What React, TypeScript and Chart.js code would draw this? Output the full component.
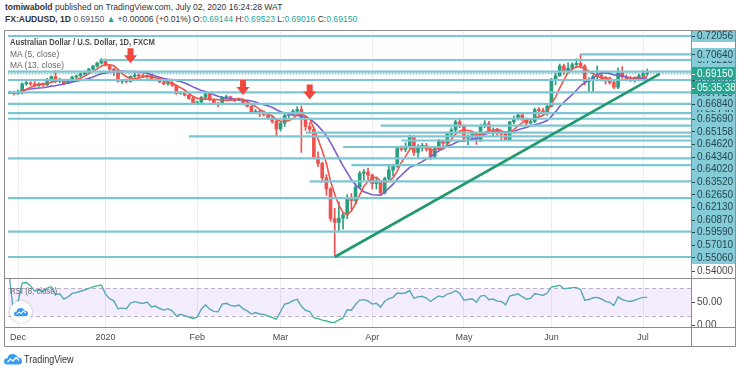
import React, { useEffect, useRef } from 'react';
import { Chart, registerables } from 'chart.js';

Chart.register(...registerables);

const FONT = "'Liberation Sans', Arial, sans-serif";

// ---------- data ----------
const dates = [
  '2019-11-27', '2019-11-28', '2019-11-29',
  '2019-12-02', '2019-12-03', '2019-12-04', '2019-12-05', '2019-12-06', '2019-12-09', '2019-12-10', '2019-12-11', '2019-12-12', '2019-12-13', '2019-12-16', '2019-12-17', '2019-12-18', '2019-12-19', '2019-12-20', '2019-12-23', '2019-12-24', '2019-12-26', '2019-12-27', '2019-12-30', '2019-12-31',
  '2020-01-02', '2020-01-03', '2020-01-06', '2020-01-07', '2020-01-08', '2020-01-09', '2020-01-10', '2020-01-13', '2020-01-14', '2020-01-15', '2020-01-16', '2020-01-17', '2020-01-20', '2020-01-21', '2020-01-22', '2020-01-23', '2020-01-24', '2020-01-27', '2020-01-28', '2020-01-29', '2020-01-30', '2020-01-31',
  '2020-02-03', '2020-02-04', '2020-02-05', '2020-02-06', '2020-02-07', '2020-02-10', '2020-02-11', '2020-02-12', '2020-02-13', '2020-02-14', '2020-02-17', '2020-02-18', '2020-02-19', '2020-02-20', '2020-02-21', '2020-02-24', '2020-02-25', '2020-02-26', '2020-02-27', '2020-02-28',
  '2020-03-02', '2020-03-03', '2020-03-04', '2020-03-05', '2020-03-06', '2020-03-09', '2020-03-10', '2020-03-11', '2020-03-12', '2020-03-13', '2020-03-16', '2020-03-17', '2020-03-18', '2020-03-19', '2020-03-20', '2020-03-23', '2020-03-24', '2020-03-25', '2020-03-26', '2020-03-27', '2020-03-30', '2020-03-31',
  '2020-04-01', '2020-04-02', '2020-04-03', '2020-04-06', '2020-04-07', '2020-04-08', '2020-04-09', '2020-04-10', '2020-04-13', '2020-04-14', '2020-04-15', '2020-04-16', '2020-04-17', '2020-04-20', '2020-04-21', '2020-04-22', '2020-04-23', '2020-04-24', '2020-04-27', '2020-04-28', '2020-04-29', '2020-04-30',
  '2020-05-01', '2020-05-04', '2020-05-05', '2020-05-06', '2020-05-07', '2020-05-08', '2020-05-11', '2020-05-12', '2020-05-13', '2020-05-14', '2020-05-15', '2020-05-18', '2020-05-19', '2020-05-20', '2020-05-21', '2020-05-22', '2020-05-25', '2020-05-26', '2020-05-27', '2020-05-28', '2020-05-29',
  '2020-06-01', '2020-06-02', '2020-06-03', '2020-06-04', '2020-06-05', '2020-06-08', '2020-06-09', '2020-06-10', '2020-06-11', '2020-06-12', '2020-06-15', '2020-06-16', '2020-06-17', '2020-06-18', '2020-06-19', '2020-06-22', '2020-06-23', '2020-06-24', '2020-06-25', '2020-06-26', '2020-06-29', '2020-06-30',
  '2020-07-01', '2020-07-02',
];

const open = [
  0.6780, 0.6768, 0.6770,
  0.6763, 0.6768, 0.6837, 0.6846, 0.6838, 0.6823, 0.6836, 0.6830, 0.6869, 0.6893, 0.6860, 0.6867, 0.6840, 0.6857, 0.6890, 0.6899, 0.6914, 0.6929, 0.6951, 0.6975, 0.6997,
  0.7021, 0.6978, 0.6950, 0.6935, 0.6858, 0.6862, 0.6856, 0.6895, 0.6906, 0.6898, 0.6893, 0.6901, 0.6866, 0.6871, 0.6852, 0.6838, 0.6844, 0.6826, 0.6763, 0.6770, 0.6750, 0.6725,
  0.6690, 0.6696, 0.6734, 0.6762, 0.6715, 0.6686, 0.6680, 0.6732, 0.6738, 0.6720, 0.6712, 0.6719, 0.6688, 0.6664, 0.6620, 0.6628, 0.6606, 0.6598, 0.6574, 0.6550,
  0.6490, 0.6535, 0.6595, 0.6605, 0.6628, 0.6640, 0.6572, 0.6510, 0.6488, 0.6275, 0.6225, 0.6115, 0.6030, 0.5800, 0.5772, 0.5805, 0.5830, 0.5955, 0.5940, 0.6045, 0.6150, 0.6160,
  0.6135, 0.6070, 0.6085, 0.6000, 0.6110, 0.6175, 0.6205, 0.6340, 0.6333, 0.6348, 0.6430, 0.6310, 0.6345, 0.6362, 0.6335, 0.6280, 0.6340, 0.6395, 0.6380, 0.6450, 0.6482, 0.6545,
  0.6515, 0.6420, 0.6435, 0.6448, 0.6400, 0.6515, 0.6530, 0.6470, 0.6482, 0.6455, 0.6450, 0.6405, 0.6545, 0.6570, 0.6598, 0.6565, 0.6535, 0.6548, 0.6640, 0.6630, 0.6620,
  0.6665, 0.6865, 0.6900, 0.6975, 0.6935, 0.6958, 0.6985, 0.6995, 0.6975, 0.6855, 0.6865, 0.6895, 0.6902, 0.6885, 0.6860, 0.6848, 0.6812, 0.6922, 0.6890, 0.6875, 0.6868, 0.6882,
  0.6900, 0.69144,
];

const high = [
  0.6788, 0.6782, 0.6780,
  0.6790, 0.6845, 0.6862, 0.6854, 0.6860, 0.6845, 0.6846, 0.6880, 0.6899, 0.6939, 0.6880, 0.6875, 0.6868, 0.6896, 0.6906, 0.6920, 0.6935, 0.6956, 0.6980, 0.7005, 0.7032,
  0.7029, 0.6985, 0.6958, 0.6940, 0.6872, 0.6875, 0.6900, 0.6918, 0.6912, 0.6913, 0.6906, 0.6904, 0.6875, 0.6876, 0.6860, 0.6850, 0.6856, 0.6830, 0.6779, 0.6781, 0.6755, 0.6738,
  0.6705, 0.6742, 0.6775, 0.6765, 0.6720, 0.6696, 0.6742, 0.6750, 0.6744, 0.6726, 0.6728, 0.6722, 0.6698, 0.6670, 0.6640, 0.6632, 0.6628, 0.6614, 0.6590, 0.6556,
  0.6545, 0.6620, 0.6614, 0.6640, 0.6662, 0.6668, 0.6590, 0.6540, 0.6500, 0.6315, 0.6235, 0.6140, 0.6040, 0.5880, 0.5930, 0.5850, 0.5985, 0.5995, 0.6070, 0.6165, 0.6180, 0.6190,
  0.6145, 0.6110, 0.6090, 0.6120, 0.6210, 0.6220, 0.6350, 0.6360, 0.6385, 0.6445, 0.6440, 0.6370, 0.6380, 0.6380, 0.6345, 0.6355, 0.6410, 0.6405, 0.6460, 0.6500, 0.6560, 0.6570,
  0.6525, 0.6445, 0.6465, 0.6460, 0.6525, 0.6555, 0.6550, 0.6500, 0.6495, 0.6475, 0.6470, 0.6550, 0.6590, 0.6615, 0.6610, 0.6575, 0.6560, 0.6650, 0.6655, 0.6650, 0.6685,
  0.6880, 0.6920, 0.6990, 0.6990, 0.7000, 0.7000, 0.7030, 0.7064, 0.6985, 0.6885, 0.6905, 0.6975, 0.6925, 0.6895, 0.6890, 0.6862, 0.6960, 0.6970, 0.6905, 0.6895, 0.6890, 0.6910,
  0.6940, 0.69523,
];

const low = [
  0.6760, 0.6762, 0.6750,
  0.6757, 0.6760, 0.6826, 0.6825, 0.6812, 0.6818, 0.6818, 0.6825, 0.6855, 0.6846, 0.6846, 0.6830, 0.6838, 0.6850, 0.6872, 0.6890, 0.6909, 0.6922, 0.6945, 0.6965, 0.6990,
  0.6975, 0.6930, 0.6900, 0.6850, 0.6840, 0.6845, 0.6850, 0.6880, 0.6888, 0.6885, 0.6880, 0.6860, 0.6860, 0.6846, 0.6832, 0.6826, 0.6818, 0.6756, 0.6757, 0.6745, 0.6718, 0.6682,
  0.6683, 0.6690, 0.6720, 0.6706, 0.6680, 0.6662, 0.6675, 0.6718, 0.6712, 0.6700, 0.6708, 0.6678, 0.6660, 0.6610, 0.6608, 0.6585, 0.6590, 0.6566, 0.6535, 0.6434,
  0.6475, 0.6510, 0.6574, 0.6595, 0.6610, 0.6310, 0.6480, 0.6468, 0.6260, 0.6200, 0.6080, 0.5980, 0.5780, 0.5506, 0.5700, 0.5720, 0.5800, 0.5870, 0.5910, 0.6030, 0.6100, 0.6100,
  0.6030, 0.6030, 0.5980, 0.5990, 0.6100, 0.6130, 0.6195, 0.6320, 0.6315, 0.6340, 0.6285, 0.6270, 0.6320, 0.6320, 0.6253, 0.6270, 0.6330, 0.6360, 0.6370, 0.6430, 0.6470, 0.6500,
  0.6400, 0.6370, 0.6410, 0.6372, 0.6395, 0.6500, 0.6460, 0.6440, 0.6440, 0.6400, 0.6400, 0.6400, 0.6530, 0.6560, 0.6555, 0.6520, 0.6530, 0.6540, 0.6590, 0.6600, 0.6595,
  0.6660, 0.6830, 0.6895, 0.6910, 0.6920, 0.6945, 0.6960, 0.6960, 0.6830, 0.6780, 0.6777, 0.6860, 0.6860, 0.6835, 0.6835, 0.6800, 0.6800, 0.6880, 0.6860, 0.6855, 0.6850, 0.6860,
  0.6880, 0.69016,
];

const close = [
  0.6768, 0.6770, 0.6763,
  0.6768, 0.6837, 0.6846, 0.6838, 0.6823, 0.6836, 0.6830, 0.6869, 0.6893, 0.6860, 0.6867, 0.6840, 0.6857, 0.6890, 0.6899, 0.6914, 0.6929, 0.6951, 0.6975, 0.6997, 0.7021,
  0.6978, 0.6950, 0.6935, 0.6858, 0.6862, 0.6856, 0.6895, 0.6906, 0.6898, 0.6893, 0.6901, 0.6866, 0.6871, 0.6852, 0.6838, 0.6844, 0.6826, 0.6763, 0.6770, 0.6750, 0.6725, 0.6690,
  0.6696, 0.6734, 0.6762, 0.6715, 0.6686, 0.6680, 0.6732, 0.6738, 0.6720, 0.6712, 0.6719, 0.6688, 0.6664, 0.6620, 0.6628, 0.6606, 0.6598, 0.6574, 0.6550, 0.6490,
  0.6535, 0.6595, 0.6605, 0.6628, 0.6640, 0.6572, 0.6510, 0.6488, 0.6275, 0.6225, 0.6115, 0.6030, 0.5800, 0.5772, 0.5805, 0.5830, 0.5955, 0.5940, 0.6045, 0.6150, 0.6160, 0.6135,
  0.6070, 0.6085, 0.6000, 0.6110, 0.6175, 0.6205, 0.6340, 0.6333, 0.6348, 0.6430, 0.6310, 0.6345, 0.6362, 0.6335, 0.6280, 0.6340, 0.6395, 0.6380, 0.6450, 0.6482, 0.6545, 0.6515,
  0.6420, 0.6435, 0.6448, 0.6400, 0.6515, 0.6530, 0.6470, 0.6482, 0.6455, 0.6450, 0.6405, 0.6545, 0.6570, 0.6598, 0.6565, 0.6535, 0.6548, 0.6640, 0.6630, 0.6620, 0.6665,
  0.6865, 0.6900, 0.6975, 0.6935, 0.6958, 0.6985, 0.6995, 0.6975, 0.6855, 0.6865, 0.6895, 0.6902, 0.6885, 0.6860, 0.6848, 0.6812, 0.6922, 0.6890, 0.6875, 0.6868, 0.6882, 0.6900,
  0.6914, 0.69150,
];

// time axis labels
const monthTickDates = ['2019-12-02', '2020-01-02', '2020-02-03', '2020-03-02', '2020-04-01', '2020-05-01', '2020-06-01', '2020-07-01'];
const monthTickLabels = ['Dec', '2020', 'Feb', 'Mar', 'Apr', 'May', 'Jun', 'Jul'];

// horizontal levels
const levelPrices = [0.72056, 0.7064, 0.7021, 0.6931, 0.6867, 0.6772, 0.6684, 0.6612, 0.6569, 0.65158, 0.6462, 0.6434, 0.6402, 0.6352, 0.6265, 0.6213, 0.6087, 0.5959, 0.5701, 0.5506];
const levelStartDates = ['2019-11-27', '2020-06-10', '2019-12-31', '2019-11-27', '2019-11-27', '2019-11-27', '2019-11-27', '2019-11-27', '2019-11-27', '2020-04-03', '2020-03-10', '2020-01-30', '2020-04-10', '2020-03-23', '2019-11-27', '2020-03-25', '2020-03-11', '2019-11-27', '2019-11-27', '2019-11-27'];
const levelLabelShown = [true, true, false, false, false, false, true, false, true, true, true, true, true, true, true, true, true, true, true, true];

const lastPrice = 0.6915;
const lastPriceText = '0.69150';
const countdownText = '05:35:38';
const plainAxisTick = 0.54;

// trend line (bar index, price)
const trendBars = [79, 157];
const trendPrices = [0.5506, 0.6915];

// red arrows (date, tip price)
const arrowDates = ['2020-01-10', '2020-02-18', '2020-03-11'];
const arrowPrices = [0.6996, 0.6752, 0.6718];

// RSI levels / axis labels
const rsiBand = [80, 20];
const rsiAxisTicks = [50, 0];

// ---------- view constants ----------
const X_MIN = 0.6;
const X_MAX = 164.5;
const PRICE_MIN = 0.53445;
const PRICE_MAX = 0.72517;
const RSI_MIN = -4.35;
const RSI_MAX = 102.2;

const UP = '#2a9f80';
const DOWN = '#ef5350';
const LEVEL = '#7cc6d3';
const LABEL_BG = '#86ccd8';
const LABEL_FG = '#23474f';
const TAG = '#27a58f';
const BORDER = '#8c8c8c';

function sma(v: number[], n: number) {
  return v.map((_, i) => {
    const s = Math.max(0, i - n + 1);
    let t = 0;
    for (let k = s; k <= i; k++) t += v[k];
    return t / (i - s + 1);
  });
}

function rsi(v: number[], n: number) {
  const out: (number | null)[] = [null];
  let ag = 0, al = 0;
  for (let i = 1; i < v.length; i++) {
    const ch = v[i] - v[i - 1];
    const g = Math.max(ch, 0), l = Math.max(-ch, 0);
    const m = Math.min(i, n);
    ag = (ag * (m - 1) + g) / m;
    al = (al * (m - 1) + l) / m;
    out.push(al === 0 ? 100 : 100 - 100 / (1 + ag / al));
  }
  return out;
}

const idxOf = (d: string) => dates.indexOf(d);

const panePlugin = {
  id: 'panePlugin',
  beforeDatasetsDraw(chart: any) {
    const { ctx, chartArea } = chart;
    const r = chart.scales.rsi;
    const yTop = r.getPixelForValue(rsiBand[0]);
    const yBot = r.getPixelForValue(rsiBand[1]);
    ctx.save();
    ctx.fillStyle = 'rgba(160, 110, 240, 0.12)';
    ctx.fillRect(chartArea.left, yTop, chartArea.right - chartArea.left, yBot - yTop);
    ctx.strokeStyle = '#b9b0c4';
    ctx.lineWidth = 1;
    ctx.setLineDash([4, 3]);
    [yTop, yBot].forEach((y) => {
      ctx.beginPath();
      ctx.moveTo(chartArea.left, Math.round(y) + 0.5);
      ctx.lineTo(chartArea.right, Math.round(y) + 0.5);
      ctx.stroke();
    });
    ctx.restore();
  },
  afterDatasetsDraw(chart: any) {
    const { ctx } = chart;
    const xs = chart.scales.x;
    const ys = chart.scales.y;
    ctx.save();
    ctx.fillStyle = '#f0483c';
    arrowDates.forEach((d, k) => {
      const px = xs.getPixelForValue(idxOf(d));
      const py = ys.getPixelForValue(arrowPrices[k]);
      ctx.beginPath();
      ctx.moveTo(px - 3, py - 15);
      ctx.lineTo(px + 3, py - 15);
      ctx.lineTo(px + 3, py - 8);
      ctx.lineTo(px + 6.5, py - 8);
      ctx.lineTo(px, py);
      ctx.lineTo(px - 6.5, py - 8);
      ctx.lineTo(px - 3, py - 8);
      ctx.closePath();
      ctx.fill();
    });
    ctx.restore();
  },
  afterDraw(chart: any) {
    const { ctx, width, height } = chart;
    const ys = chart.scales.y;
    const rs = chart.scales.rsi;
    const xs = chart.scales.x;
    const left = ys.left;
    const right = width;
    ctx.save();
    ctx.font = `10px ${FONT}`;
    ctx.textBaseline = 'middle';
    const H = 13;
    const drawBox = (y: number, text: string, bg: string, fg: string) => {
      if (bg) {
        ctx.fillStyle = bg;
        ctx.fillRect(left + 1, Math.round(y - H / 2), right - left - 1, H);
      }
      ctx.fillStyle = fg;
      ctx.fillRect(left + 1, Math.round(y), 3, 1);
      ctx.fillText(text, left + 6, y + 0.5);
    };
    // hidden (overlapped) labels first at true positions
    levelPrices.forEach((p, k) => {
      if (!levelLabelShown[k]) drawBox(ys.getPixelForValue(p), p.toFixed(5), LABEL_BG, LABEL_FG);
    });
    const items: any[] = levelPrices
      .map((p, k) => ({ p, k }))
      .filter((o) => levelLabelShown[o.k])
      .map((o) => ({ price: o.p, text: o.p.toFixed(5), bg: LABEL_BG, fg: LABEL_FG }));
    items.push({ price: lastPrice, text: lastPriceText, bg: TAG, fg: '#ffffff', countdown: true });
    items.push({ price: plainAxisTick, text: plainAxisTick.toFixed(5), bg: '', fg: '#4a4a4a' });
    items.sort((a, b) => b.price - a.price);
    let prev = -1e9;
    items.forEach((it) => {
      const y = Math.max(ys.getPixelForValue(it.price), prev + 12.6);
      drawBox(y, it.text, it.bg, it.fg);
      prev = y;
      if (it.countdown) {
        drawBox(y + 14, countdownText, TAG, '#ffffff');
        prev = y + 14;
      }
    });
    // RSI axis labels
    rsiAxisTicks.forEach((v) => drawBox(rs.getPixelForValue(v), v.toFixed(2), '', '#4a4a4a'));
    // frame
    ctx.strokeStyle = BORDER;
    ctx.lineWidth = 1;
    ctx.beginPath();
    ctx.rect(0.5, 0.5, width - 1, height - 1);
    const sep = Math.round(rs.top) + 0.5;
    ctx.moveTo(0, sep);
    ctx.lineTo(width, sep);
    const xb = Math.round(xs.top) + 0.5;
    ctx.moveTo(0, xb);
    ctx.lineTo(width, xb);
    const vb = Math.round(left) + 0.5;
    ctx.moveTo(vb, 0);
    ctx.lineTo(vb, height);
    ctx.stroke();
    ctx.restore();
  },
};

function Cloud({ w, h }: { w: number; h: number }) {
  return (
    <svg width={w} height={h} viewBox="0 0 36 24">
      <path d="M7 23 Q0 23 0 16.5 Q0 10 7 10.5 Q8 2 17 2 Q25 2 27.5 9 Q36 9 36 16.5 Q36 23 29 23 Z" fill="#3a9cf0" />
      <polyline points="7,18 13,12 18,16 24,9 30,15" fill="none" stroke="#ffffff" strokeWidth="2.6" strokeLinejoin="round" />
    </svg>
  );
}

export default function App() {
  const ref = useRef<HTMLCanvasElement>(null);

  useEffect(() => {
    document.body.style.margin = '0';
    const canvas = ref.current!;
    Chart.defaults.font.family = FONT;
    const ma5 = sma(close, 5);
    const ma13 = sma(close, 13);
    const rsi8 = rsi(close, 8);
    const idx = dates.map((_, i) => i);
    const colors = close.map((c, i) => (c >= open[i] ? UP : DOWN));
    const monthIdx = monthTickDates.map(idxOf);

    const datasets: any[] = [];
    datasets.push({
      type: 'line', yAxisID: 'y', order: 0,
      data: trendBars.map((b, k) => ({ x: b, y: trendPrices[k] })),
      borderColor: '#21996c', borderWidth: 2.6, pointRadius: 0,
    });
    levelPrices.forEach((p, k) => {
      datasets.push({
        type: 'line', yAxisID: 'y', order: 1,
        data: [{ x: idxOf(levelStartDates[k]), y: p }, { x: X_MAX + 10, y: p }],
        borderColor: LEVEL, borderWidth: 2.2, pointRadius: 0,
      });
    });
    datasets.push({
      type: 'line', yAxisID: 'y', order: 1,
      data: [{ x: X_MIN - 10, y: lastPrice }, { x: X_MAX + 10, y: lastPrice }],
      borderColor: '#1d7f6e', borderWidth: 1, borderDash: [1, 2], pointRadius: 0,
    });
    datasets.push({
      type: 'line', yAxisID: 'y', order: 2,
      data: idx.map((i) => ({ x: i, y: ma5[i] })),
      borderColor: '#f0544a', borderWidth: 1.6, pointRadius: 0,
    });
    datasets.push({
      type: 'line', yAxisID: 'y', order: 2,
      data: idx.map((i) => ({ x: i, y: ma13[i] })),
      borderColor: '#7b5fca', borderWidth: 1.6, pointRadius: 0,
    });
    datasets.push({
      type: 'bar', yAxisID: 'y', order: 3, grouped: false,
      data: idx.map((i) => ({ x: i, y: [open[i], close[i]] })),
      backgroundColor: colors, barThickness: 3, minBarLength: 1, borderWidth: 0,
    });
    datasets.push({
      type: 'bar', yAxisID: 'y', order: 4, grouped: false,
      data: idx.map((i) => ({ x: i, y: [low[i], high[i]] })),
      backgroundColor: colors, barThickness: 1, borderWidth: 0,
    });
    datasets.push({
      type: 'line', yAxisID: 'rsi', order: 5,
      data: idx.filter((i) => rsi8[i] !== null).map((i) => ({ x: i, y: rsi8[i] })),
      borderColor: '#58a9b7', borderWidth: 1.4, pointRadius: 0,
      segment: {
        borderColor: (c: any) =>
          (c.p0.parsed.y > rsiBand[0] && c.p1.parsed.y > rsiBand[0]) || (c.p0.parsed.y < rsiBand[1] && c.p1.parsed.y < rsiBand[1])
            ? '#3fb28c'
            : undefined,
      },
    });

    const chart = new Chart(canvas, {
      type: 'bar',
      data: { datasets },
      plugins: [panePlugin],
      options: {
        responsive: false,
        animation: false,
        devicePixelRatio: 1,
        events: [],
        layout: { padding: { left: 4, right: 0, top: 0, bottom: 0 } },
        plugins: { legend: { display: false }, tooltip: { enabled: false } },
        scales: {
          x: {
            type: 'linear', position: 'bottom', min: X_MIN, max: X_MAX, offset: false,
            afterBuildTicks: (s: any) => { s.ticks = monthIdx.map((v) => ({ value: v })); },
            afterFit: (s: any) => { s.height = 20; },
            ticks: {
              autoSource: false, autoSkip: false, maxRotation: 0, padding: 5,
              color: '#4a4a4a', font: { size: 9, family: FONT },
              callback: (v: any) => { const k = monthIdx.indexOf(v); return k >= 0 ? monthTickLabels[k] : ''; },
            },
            grid: { color: '#ececec', drawTicks: false, offset: false },
            border: { display: false },
          },
          y: {
            type: 'linear', position: 'right', stack: 'pane', stackWeight: 248,
            min: PRICE_MIN, max: PRICE_MAX, offset: false,
            afterFit: (s: any) => { s.width = 45; },
            ticks: { display: false },
            grid: { display: false },
            border: { display: false },
          },
          rsi: {
            type: 'linear', position: 'right', stack: 'pane', stackWeight: 49,
            min: RSI_MIN, max: RSI_MAX, offset: false,
            afterFit: (s: any) => { s.width = 45; },
            ticks: { display: false },
            grid: { display: false },
            border: { display: false },
          },
        },
      } as any,
    });
    return () => chart.destroy();
  }, []);

  const green = { color: '#26a69a' };
  return (
    <div style={{ position: 'fixed', left: 0, top: 0, width: 740, height: 373, background: '#ffffff', overflow: 'hidden', fontFamily: FONT, color: '#333' }}>
      <div style={{ position: 'absolute', left: 5, top: 1, fontSize: 9.5, lineHeight: '12px', whiteSpace: 'nowrap', transform: 'scaleX(0.9)', transformOrigin: 'left center' }}>
        <b>tomiwabold</b> published on TradingView.com, July 02, 2020 16:24:28 WAT
      </div>
      <div style={{ position: 'absolute', left: 5, top: 13, fontSize: 9.5, lineHeight: '12px', whiteSpace: 'nowrap', transform: 'scaleX(0.9)', transformOrigin: 'left center' }}>
        <b>FX:AUDUSD, 1D</b> <span style={{ color: '#555' }}>0.69150</span> <span style={green}>▲</span> +0.00006 (+0.01%) O:<span style={green}>0.69144</span> H:<span style={green}>0.69523</span> L:<span style={green}>0.69016</span> C:<span style={green}>0.69150</span>
      </div>
      <canvas ref={ref} width={732} height={317} style={{ position: 'absolute', left: 4, top: 30, width: 732, height: 317 }} />
      <div style={{ position: 'absolute', left: 10, top: 36, fontSize: 9.5, lineHeight: '12px', fontWeight: 'bold', color: '#4a4a4a', whiteSpace: 'nowrap', transform: 'scaleX(0.8)', transformOrigin: 'left center' }}>
        Australian Dollar / U.S. Dollar, 1D, FXCM
      </div>
      <div style={{ position: 'absolute', left: 10, top: 47.5, fontSize: 9.5, lineHeight: '12px', color: '#666', whiteSpace: 'nowrap', transform: 'scaleX(0.89)', transformOrigin: 'left center' }}>
        MA (5, close)
      </div>
      <div style={{ position: 'absolute', left: 10, top: 59, fontSize: 9.5, lineHeight: '12px', color: '#666', whiteSpace: 'nowrap', transform: 'scaleX(0.89)', transformOrigin: 'left center' }}>
        MA (13, close)
      </div>
      <div style={{ position: 'absolute', left: 10, top: 285, fontSize: 9.5, lineHeight: '12px', color: '#666', whiteSpace: 'nowrap', transform: 'scaleX(0.82)', transformOrigin: 'left center' }}>
        RSI (8, close)
      </div>
      <div style={{ position: 'absolute', left: 10, top: 301, width: 22, height: 22, borderRadius: 11, background: '#fff', boxShadow: '0 0 2px rgba(0,0,0,0.35)', display: 'flex', alignItems: 'center', justifyContent: 'center' }}>
        <Cloud w={14} h={10} />
      </div>
      <div style={{ position: 'absolute', left: 4, top: 353, display: 'flex', alignItems: 'center' }}>
        <Cloud w={18} h={12} />
        <span style={{ marginLeft: 2, fontSize: 10, color: '#333', transform: 'scaleX(0.9)', transformOrigin: 'left center', whiteSpace: 'nowrap' }}>TradingView</span>
      </div>
    </div>
  );
}
